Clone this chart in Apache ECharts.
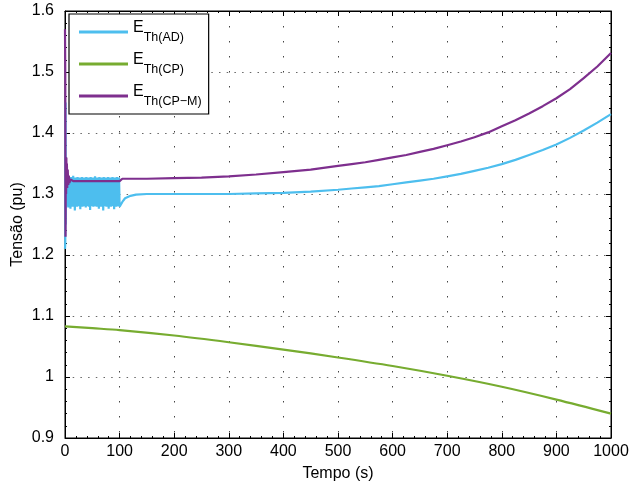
<!DOCTYPE html>
<html>
<head>
<meta charset="utf-8">
<script src="https://cdn.jsdelivr.net/npm/echarts@6/dist/echarts.min.js"></script>
<style>
  html, body { margin: 0; padding: 0; background: #fff; }
  #chart { width: 630px; height: 486px; }
</style>
</head>
<body>
<div id="chart"></div>
<script>
// Thévenin voltage estimates over time (pu)

// E_Th(AD): start-up transient
const adStartT = [0, 0.5, 1, 1.5, 2, 2.5];
const adStartV = [1.21, 1.22, 1.45, 1.25, 1.33, 1.28];
// E_Th(AD): oscillating band, sampled every second from t = 3 s to t = 100 s
const adOscT0 = 3;
const adOscStep = 1;
const adOscV = [
  1.328, 1.280, 1.326, 1.278, 1.327, 1.281, 1.325, 1.276, 1.328, 1.280,
  1.326, 1.279, 1.330, 1.281, 1.325, 1.273, 1.327, 1.280, 1.326, 1.279,
  1.328, 1.281, 1.325, 1.280, 1.327, 1.275, 1.326, 1.281, 1.328, 1.279,
  1.325, 1.280, 1.327, 1.281, 1.326, 1.278, 1.328, 1.280, 1.325, 1.281,
  1.327, 1.279, 1.326, 1.274, 1.328, 1.280, 1.325, 1.281, 1.327, 1.279,
  1.326, 1.280, 1.329, 1.281, 1.325, 1.279, 1.327, 1.280, 1.326, 1.276,
  1.328, 1.281, 1.325, 1.279, 1.327, 1.280, 1.326, 1.273, 1.328, 1.280,
  1.325, 1.281, 1.327, 1.279, 1.326, 1.280, 1.328, 1.276, 1.325, 1.281,
  1.327, 1.279, 1.326, 1.280, 1.328, 1.281, 1.325, 1.275, 1.327, 1.280,
  1.326, 1.279, 1.328, 1.281, 1.325, 1.280, 1.327, 1.279
];
// E_Th(AD): settled part
const adTailT = [102, 105, 110, 120, 130, 150, 200, 250, 300, 350, 400, 450, 500,
                 525, 550, 575, 600, 625, 650, 675, 700, 725, 750, 775, 800, 825,
                 850, 875, 900, 925, 950, 975, 1000];
const adTailV = [1.280, 1.287, 1.293, 1.297, 1.299, 1.300, 1.300, 1.300, 1.300, 1.301,
                 1.302, 1.304, 1.307, 1.309, 1.311, 1.313, 1.316, 1.319, 1.322, 1.325,
                 1.329, 1.333, 1.338, 1.343, 1.349, 1.356, 1.364, 1.372, 1.381, 1.392,
                 1.404, 1.417, 1.431];

// E_Th(CP)
const cpT = [0, 50, 100, 200, 300, 400, 500, 600, 700, 800, 900, 1000];
const cpV = [1.083, 1.080, 1.077, 1.068, 1.057, 1.045, 1.032, 1.018, 1.002, 0.984, 0.963, 0.940];

// E_Th(CP-M)
const cpmT = [0, 0.5, 1, 1.5, 2, 2.5, 3, 3.5, 4, 5, 6, 7, 8, 10, 15, 100, 105, 150,
              200, 250, 300, 350, 400, 450, 500, 525, 550, 575, 600, 625, 650, 675,
              700, 725, 750, 775, 800, 825, 850, 875, 900, 925, 950, 975, 1000];
const cpmV = [1.57, 1.50, 1.23, 1.36, 1.30, 1.36, 1.31, 1.35, 1.31, 1.34, 1.315, 1.33,
              1.318, 1.324, 1.321, 1.321, 1.325, 1.325, 1.326, 1.327, 1.329, 1.332,
              1.336, 1.340, 1.346, 1.349, 1.352, 1.356, 1.360, 1.364, 1.369, 1.374,
              1.380, 1.386, 1.393, 1.401, 1.411, 1.421, 1.432, 1.444, 1.457, 1.472,
              1.490, 1.509, 1.531];

const seriesNames = ['ETh(AD)', 'ETh(CP)', 'ETh(CP-M)'];
const legendSubs = ['Th(AD)', 'Th(CP)', 'Th(CP\u2212M)'];
const seriesColors = ['#4DBEEE', '#77AC30', '#7E2F8E'];

const xTicks = { min: 0, max: 1000, interval: 100 };
const yTicks = { min: 0.9, max: 1.6, interval: 0.1 };

function pairs(ts, vs) { return ts.map((t, i) => [t, vs[i]]); }

const adData = pairs(adStartT, adStartV)
  .concat(adOscV.map((v, i) => [adOscT0 + i * adOscStep, v]))
  .concat(pairs(adTailT, adTailV));
const cpData = pairs(cpT, cpV);
const cpmData = pairs(cpmT, cpmV);

const font = 'Liberation Sans, Arial, Helvetica, sans-serif';

const chart = echarts.init(document.getElementById('chart'), null, { renderer: 'canvas' });

function axisCommon(extra) {
  return Object.assign({
    type: 'value',
    axisLine: { show: true, onZero: false, lineStyle: { color: '#000', width: 1 } },
    axisTick: { show: true, inside: true, length: 5, lineStyle: { color: '#000' } },
    minorTick: { show: true, splitNumber: 5, length: 2, lineStyle: { color: '#000' } },
    axisLabel: { color: '#000', fontFamily: font, fontSize: 16 }
  }, extra);
}

chart.setOption({
  animation: false,
  backgroundColor: '#fff',
  grid: { left: 65, right: 19, top: 11, bottom: 48, outerBoundsMode: 'none', containLabel: false,
          show: true, borderColor: '#000', borderWidth: 1, backgroundColor: 'transparent' },
  xAxis: [
    axisCommon({
      min: xTicks.min, max: xTicks.max, interval: xTicks.interval,
      name: 'Tempo (s)', nameLocation: 'middle', nameGap: 28, nameMoveOverlap: false,
      nameTextStyle: { color: '#000', fontFamily: font, fontSize: 16 },
      axisLabel: { color: '#000', fontFamily: font, fontSize: 16, margin: 6, formatter: v => String(v) },
      splitLine: { show: true, lineStyle: { color: '#444', type: [1.5, 13.5], width: 1 } }
    }),
    axisCommon({
      position: 'top', min: xTicks.min, max: xTicks.max, interval: xTicks.interval,
      axisLabel: { show: false }, splitLine: { show: false }
    })
  ],
  yAxis: [
    axisCommon({
      min: yTicks.min, max: yTicks.max, interval: yTicks.interval,
      name: 'Tensão (pu)', nameLocation: 'middle', nameGap: 39, nameMoveOverlap: false,
      nameTextStyle: { color: '#000', fontFamily: font, fontSize: 16 },
      axisLabel: { color: '#000', fontFamily: font, fontSize: 16, margin: 11 },
      splitLine: { show: true, lineStyle: { color: '#666', type: [1.5, 6.2], width: 1 } }
    }),
    axisCommon({
      position: 'right', min: yTicks.min, max: yTicks.max, interval: yTicks.interval,
      axisLabel: { show: false }, splitLine: { show: false }
    })
  ],
  legend: {
    orient: 'vertical',
    left: 69, top: 14,
    data: seriesNames,
    icon: 'rect',
    itemWidth: 49, itemHeight: 3,
    itemGap: 8,
    padding: [6, 7, 6, 10],
    borderColor: '#000', borderWidth: 1.2,
    backgroundColor: '#fff',
    formatter: name => '{e|E}{s|' + legendSubs[seriesNames.indexOf(name)] + '}',
    textStyle: {
      fontFamily: font,
      rich: {
        e: { fontFamily: font, fontSize: 16, color: '#000', lineHeight: 24, verticalAlign: 'top' },
        s: { fontFamily: font, fontSize: 12.5, color: '#000', lineHeight: 24, verticalAlign: 'bottom', padding: [10, 0, 0, 0] }
      }
    }
  },
  series: [
    { name: seriesNames[0], type: 'line', data: adData, showSymbol: false, color: seriesColors[0],
      lineStyle: { width: 2.2, color: seriesColors[0] }, z: 2 },
    { name: seriesNames[1], type: 'line', data: cpData, showSymbol: false, smooth: 0.3, color: seriesColors[1],
      lineStyle: { width: 2.2, color: seriesColors[1] }, z: 3 },
    { name: seriesNames[2], type: 'line', data: cpmData, showSymbol: false, color: seriesColors[2],
      lineStyle: { width: 2.2, color: seriesColors[2] }, z: 4 }
  ]
});
</script>
</body>
</html>
